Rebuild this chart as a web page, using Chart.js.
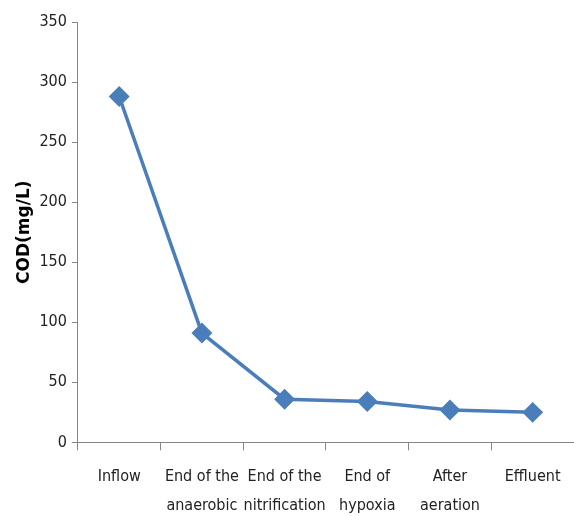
<!DOCTYPE html>
<html>
<head>
<meta charset="utf-8">
<script src="https://cdn.jsdelivr.net/npm/chart.js@4"></script>
<style>
  html, body { margin: 0; padding: 0; background: #fff; }
  #wrap { width: 574px; height: 516px; }
</style>
</head>
<body>
<div id="wrap"><canvas id="chart-cod" width="574" height="516"></canvas></div>
<script>
const stages = [
  ['Inflow'],
  ['End of the', 'anaerobic'],
  ['End of the', 'nitrification'],
  ['End of', 'hypoxia'],
  ['After', 'aeration'],
  ['Effluent']
];
const codValues = [288, 91, 36, 34, 27, 25];
const yTicks = [0, 50, 100, 150, 200, 250, 300, 350];

const fontNarrow = "'DejaVu Sans Condensed', sans-serif";
const lineColor = '#4a7ebb';

const ctx = document.getElementById('chart-cod').getContext('2d');
new Chart(ctx, {
  type: 'line',
  data: {
    labels: stages,
    datasets: [{
      label: 'COD',
      data: codValues,
      borderColor: lineColor,
      backgroundColor: lineColor,
      borderWidth: 3.5,
      pointStyle: 'rectRot',
      pointRadius: 8,
      pointHoverRadius: 8,
      tension: 0
    }]
  },
  options: {
    responsive: false,
    animation: false,
    layout: { autoPadding: false, padding: { top: 22, right: 0, left: 14, bottom: -16 } },
    plugins: {
      legend: { display: false },
      tooltip: { enabled: false }
    },
    scales: {
      x: {
        offset: true,
        grid: { display: true, drawOnChartArea: false, offset: true, tickLength: 8, color: '#868686' },
        border: { color: '#868686' },
        ticks: {
          color: '#222',
          font: { family: fontNarrow, size: 16, lineHeight: 1.8 },
          padding: 12,
          maxRotation: 0,
          autoSkip: false
        }
      },
      y: {
        min: 0,
        max: 350,
        afterBuildTicks: axis => { axis.ticks = yTicks.map(v => ({ value: v })); },
        grid: { display: true, drawOnChartArea: false, tickLength: 6, color: '#868686' },
        border: { color: '#868686' },
        ticks: {
          color: '#222',
          font: { family: fontNarrow, size: 16 },
          padding: 5
        },
        title: {
          display: true,
          text: 'COD(mg/L)',
          color: '#000',
          font: { family: "'DejaVu Sans', sans-serif", size: 17, weight: 'bold' },
          padding: { top: 0, bottom: 0 }
        }
      }
    }
  }
});
</script>
</body>
</html>
